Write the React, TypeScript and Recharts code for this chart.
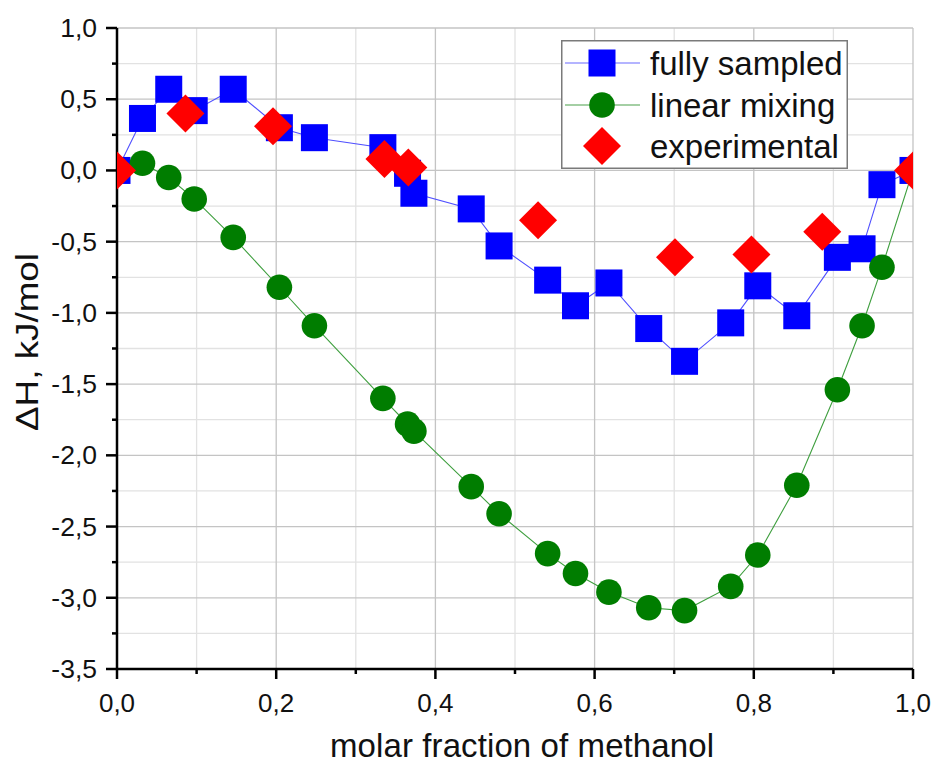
import React from 'react';
import { ComposedChart, Scatter, XAxis, YAxis, CartesianGrid, Legend } from 'recharts';

// Molar fraction of methanol (shared by the two simulated series)
const compositions = [0, 0.032, 0.065, 0.097, 0.146, 0.204, 0.248, 0.334, 0.365, 0.373, 0.445, 0.48, 0.541, 0.576, 0.618, 0.668, 0.713, 0.771, 0.805, 0.854, 0.905, 0.936, 0.961, 1.0];
const fullySampled = [0, 0.365, 0.57, 0.42, 0.57, 0.3, 0.23, 0.16, -0.02, -0.16, -0.27, -0.53, -0.77, -0.95, -0.79, -1.11, -1.34, -1.07, -0.81, -1.02, -0.61, -0.55, -0.1, 0];
const linearMixing = [0, 0.05, -0.05, -0.2, -0.47, -0.82, -1.09, -1.6, -1.78, -1.83, -2.22, -2.41, -2.69, -2.83, -2.96, -3.07, -3.09, -2.92, -2.7, -2.21, -1.54, -1.09, -0.68, 0];
const experimentalX = [0, 0.086, 0.196, 0.336, 0.366, 0.529, 0.701, 0.797, 0.886, 1.0];
const experimentalY = [0, 0.4, 0.31, 0.08, 0.02, -0.35, -0.61, -0.59, -0.43, 0];

const xMajorTicks = [0, 0.2, 0.4, 0.6, 0.8, 1.0];
const xMinorTicks = [0.1, 0.3, 0.5, 0.7, 0.9];
const xAllTicks = [0, 0.1, 0.2, 0.3, 0.4, 0.5, 0.6, 0.7, 0.8, 0.9, 1.0];
const yMajorTicks = [-3.5, -3, -2.5, -2, -1.5, -1, -0.5, 0, 0.5, 1];
const yMinorTicks = [-3.25, -2.75, -2.25, -1.75, -1.25, -0.75, -0.25, 0.25, 0.75];
const yAllTicks = [-3.5, -3.25, -3, -2.75, -2.5, -2.25, -2, -1.75, -1.5, -1.25, -1, -0.75, -0.5, -0.25, 0, 0.25, 0.5, 0.75, 1];

const seriesNames = ['fully sampled', 'linear mixing', 'experimental'];
const xTitle = 'molar fraction of methanol';
const yTitle = 'ΔH, kJ/mol';

const fullyData = compositions.map((x, i) => ({ x, y: fullySampled[i] }));
const linearData = compositions.map((x, i) => ({ x, y: linearMixing[i] }));
const expData = experimentalX.map((x, i) => ({ x, y: experimentalY[i] }));

const FONT = '"Liberation Sans", Arial, sans-serif';
const BLUE = '#0000ff';
const GREEN = '#007d00';
const RED = '#ff0000';

const isMajor = (v: number, majors: number[]) => majors.some((m) => Math.abs(m - v) < 1e-6);
const fmt = (v: number) => v.toFixed(1).replace('.', ',');

const BottomTick = (p: any) => {
  const major = isMajor(p.payload.value, xMajorTicks);
  return (
    <g>
      <line x1={p.x} x2={p.x} y1={p.y} y2={p.y + (major ? 10 : 5)} stroke="#000" strokeWidth={2.5} />
      {major && (
        <text x={p.x} y={p.y + 43} textAnchor="middle" fontSize={26} fill="#111" fontFamily={FONT}>
          {fmt(p.payload.value)}
        </text>
      )}
    </g>
  );
};

const TopTick = (p: any) => {
  const major = isMajor(p.payload.value, xMajorTicks);
  return <line x1={p.x} x2={p.x} y1={p.y} y2={p.y + (major ? 10 : 5)} stroke="#000" strokeWidth={2.5} />;
};

const LeftTick = (p: any) => {
  const major = isMajor(p.payload.value, yMajorTicks);
  return (
    <g>
      <line x1={p.x - (major ? 11 : 5)} x2={p.x} y1={p.y} y2={p.y} stroke="#000" strokeWidth={2.5} />
      {major && (
        <text x={p.x - 20} y={p.y + 9} textAnchor="end" fontSize={26.5} fill="#111" fontFamily={FONT}>
          {fmt(p.payload.value)}
        </text>
      )}
    </g>
  );
};

const RightTick = (p: any) => {
  const major = isMajor(p.payload.value, yMajorTicks);
  return <line x1={p.x - (major ? 12 : 6)} x2={p.x} y1={p.y} y2={p.y} stroke="#000" strokeWidth={2.5} />;
};

const SquareShape = (p: any) => <rect x={p.cx - 13.5} y={p.cy - 13.5} width={27} height={27} fill={BLUE} />;
const CircleShape = (p: any) => <circle cx={p.cx} cy={p.cy} r={12.8} fill={GREEN} />;
const DiamondShape = (p: any) => (
  <polygon points={`${p.cx},${p.cy - 19} ${p.cx + 19},${p.cy} ${p.cx},${p.cy + 19} ${p.cx - 19},${p.cy}`} fill={RED} />
);

const LegendBox = () => (
  <svg width={288} height={130} style={{ display: 'block' }}>
    <rect x={0.75} y={0.75} width={285.5} height={127.5} fill="#fff" stroke="#7a7a7a" strokeWidth={1.5} />
    <line x1={4} x2={79} y1={23} y2={23} stroke="#6a6aff" strokeWidth={1.2} />
    <rect x={41 - 13.5} y={23 - 13.5} width={27} height={27} fill={BLUE} />
    <line x1={4} x2={79} y1={65} y2={65} stroke="#4aa04a" strokeWidth={1.2} />
    <circle cx={41} cy={65} r={12.8} fill={GREEN} />
    <polygon points="41,87 60,106 41,125 22,106" fill={RED} />
    {seriesNames.map((n, i) => (
      <text key={n} x={89} y={[23, 65, 106][i] + 12} fontSize={33} fill="#111" fontFamily={FONT}>
        {n}
      </text>
    ))}
  </svg>
);

export default function App() {
  return (
    <div style={{ position: 'absolute', left: 0, top: 0, background: '#fff' }}>
      <ComposedChart width={934} height={765} margin={{ top: 28, right: 21, bottom: 36, left: 17 }}>
        <CartesianGrid
          verticalValues={xMinorTicks}
          horizontalValues={yMinorTicks}
          stroke="#e2e2e2"
          strokeWidth={1.3}
        />
        <CartesianGrid
          verticalValues={xMajorTicks}
          horizontalValues={yMajorTicks}
          stroke="#c4c4c4"
          strokeWidth={1.3}
        />
        <XAxis
          dataKey="x"
          type="number"
          domain={[0, 1]}
          ticks={xAllTicks}
          interval={0}
          allowDataOverflow
          height={60}
          tickSize={0}
          tickMargin={0}
          tickLine={false}
          axisLine={{ stroke: '#000', strokeWidth: 2.5 }}
          tick={(p: any) => <BottomTick {...p} />}
          label={{
            content: () => (
              <text x={522} y={757} textAnchor="middle" fontSize={33} textLength={384} lengthAdjust="spacing" fill="#111" fontFamily={FONT}>
                {xTitle}
              </text>
            ),
          }}
        />
        <XAxis
          xAxisId="top"
          orientation="top"
          type="number"
          domain={[0, 1]}
          ticks={xAllTicks}
          interval={0}
          allowDataOverflow
          height={0}
          tickSize={0}
          tickMargin={0}
          tickLine={false}
          axisLine={{ stroke: '#000', strokeWidth: 2.5 }}
          tick={(p: any) => <TopTick {...p} />}
        />
        <YAxis
          dataKey="y"
          type="number"
          domain={[-3.5, 1]}
          ticks={yAllTicks}
          interval={0}
          allowDataOverflow
          width={100}
          tickSize={0}
          tickMargin={0}
          tickLine={false}
          axisLine={{ stroke: '#000', strokeWidth: 2.5 }}
          tick={(p: any) => <LeftTick {...p} />}
          label={{
            content: () => (
              <text
                x={38}
                y={342}
                transform="rotate(-90, 38, 342)"
                textAnchor="middle"
                fontSize={32}
                textLength={178}
                lengthAdjust="spacingAndGlyphs"
                fill="#111"
                fontFamily={FONT}
              >
                {yTitle}
              </text>
            ),
          }}
        />
        <YAxis
          yAxisId="right"
          orientation="right"
          type="number"
          domain={[-3.5, 1]}
          ticks={yAllTicks}
          interval={0}
          allowDataOverflow
          width={0}
          tickSize={0}
          tickMargin={0}
          tickLine={false}
          axisLine={{ stroke: '#000', strokeWidth: 2.5 }}
          tick={(p: any) => <RightTick {...p} />}
        />
        <Scatter
          name={seriesNames[0]}
          data={fullyData}
          line={{ stroke: '#5050ff', strokeWidth: 1.1 }}
          lineType="joint"
          shape={(p: any) => <SquareShape {...p} />}
          isAnimationActive={false}
        />
        <Scatter
          name={seriesNames[1]}
          data={linearData}
          line={{ stroke: '#3f9f3f', strokeWidth: 1.1 }}
          lineType="joint"
          shape={(p: any) => <CircleShape {...p} />}
          isAnimationActive={false}
        />
        <Scatter
          name={seriesNames[2]}
          data={expData}
          shape={(p: any) => <DiamondShape {...p} />}
          isAnimationActive={false}
        />
        <Legend
          layout="vertical"
          align="center"
          verticalAlign="middle"
          wrapperStyle={{ left: 561, top: 40, width: 288, height: 130 }}
          content={() => <LegendBox />}
        />
      </ComposedChart>
    </div>
  );
}
